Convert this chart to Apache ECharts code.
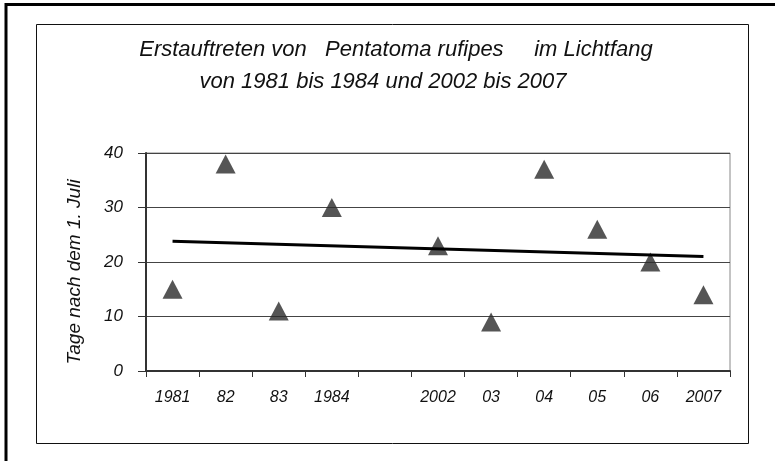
<!DOCTYPE html>
<html>
<head>
<meta charset="utf-8">
<script src="https://cdn.jsdelivr.net/npm/echarts@6/dist/echarts.min.js"></script>
<style>
  html, body { margin: 0; padding: 0; background: #fff; }
  #main { width: 775px; height: 461px; }
</style>
</head>
<body>
<div id="main"></div>
<script>
// Jahre (Lücke zwischen 1984 und 2002 als leere Kategorie)
var years = ['1981', '82', '83', '1984', '', '2002', '03', '04', '05', '06', '2007'];
// Tage nach dem 1. Juli
var firstDays = [15, 38, 11, 30, null, 23, 9, 37, 26, 20, 14];
var trendValues = [23.8, null, null, null, null, null, null, null, null, null, 21.0];
var yTicks = { min: 0, max: 40, interval: 10 };

var font = 'Liberation Sans, Arial, sans-serif';
var chart = echarts.init(document.getElementById('main'));

var titleStyle = { fontFamily: font, fontStyle: 'italic', fontWeight: 'normal', fontSize: 22, color: '#111' };

chart.setOption({
  backgroundColor: '#fff',
  animation: false,
  title: [{
    text: 'Erstauftreten von   Pentatoma rufipes     im Lichtfang',
    left: 391,
    textAlign: 'center',
    top: 34,
    textStyle: titleStyle
  }, {
    text: 'von 1981 bis 1984 und 2002 bis 2007',
    left: 378,
    textAlign: 'center',
    top: 66,
    textStyle: titleStyle
  }],
  graphic: [{
    type: 'rect',
    shape: { x: 6, y: 4.5, width: 800, height: 500 },
    style: { fill: null, stroke: '#000', lineWidth: 3 }
  }, {
    type: 'rect',
    shape: { x: 36.5, y: 24.5, width: 712, height: 419 },
    style: { fill: null, stroke: '#111', lineWidth: 1 }
  }],
  grid: {
    left: 146, right: 45, top: 153, bottom: 90,
    show: true, borderColor: '#888', borderWidth: 1
  },
  xAxis: {
    type: 'category',
    data: years,
    axisLine: { lineStyle: { color: '#333', width: 2 } },
    axisTick: { show: true, length: 6, interval: 0, lineStyle: { color: '#333' } },
    axisLabel: {
      interval: 0, margin: 19,
      fontFamily: font, fontStyle: 'italic', fontSize: 16, color: '#111'
    }
  },
  yAxis: {
    type: 'value',
    min: yTicks.min, max: yTicks.max, interval: yTicks.interval,
    name: 'Tage nach dem 1. Juli',
    nameLocation: 'middle',
    nameGap: 62,
    nameTextStyle: {
      fontFamily: font, fontStyle: 'italic', fontSize: 19, color: '#111',
      padding: [0, 20, 0, 0]
    },
    axisLine: { show: true, lineStyle: { color: '#333', width: 2 } },
    axisTick: { show: true, length: 8, lineStyle: { color: '#333' } },
    axisLabel: {
      margin: 23, padding: [0, 0, 11, 0],
      fontFamily: font, fontStyle: 'italic', fontSize: 17, color: '#111'
    },
    splitLine: { lineStyle: { color: '#444', width: 1 } }
  },
  series: [{
    name: 'Erstauftreten',
    type: 'scatter',
    data: firstDays,
    symbol: 'triangle',
    symbolSize: [20, 19],
    itemStyle: { color: '#2b2b2b' }
  }, {
    name: 'Trend',
    type: 'line',
    data: trendValues,
    connectNulls: true,
    symbol: 'none',
    lineStyle: { color: '#000', width: 3 }
  }]
});
</script>
</body>
</html>
